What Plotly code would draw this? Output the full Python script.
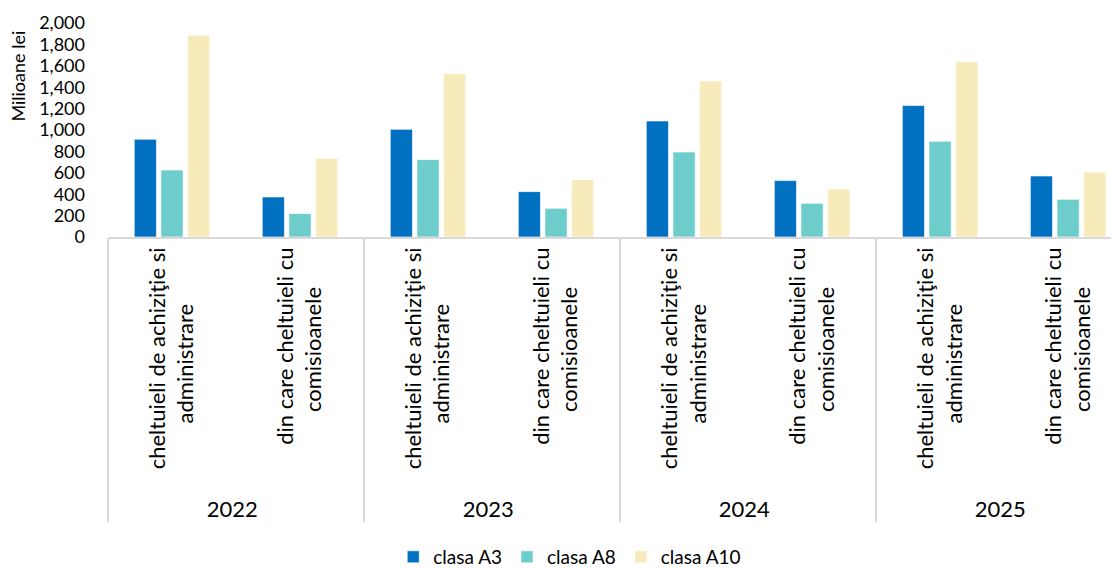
import plotly.graph_objects as go

NB = "\u00a0"
years = ["2022", "2023", "2024", "2025"]
categories = [
    NB + "cheltuieli de achiziţie si<br>administrare" + NB * 10,
    "din care cheltuieli cu<br>comisioanele" + NB * 7,
]
series_names = ["clasa A3", "clasa A8", "clasa A10"]
a3 = [913, 374, 1006, 424, 1084, 527, 1228, 570]
a8 = [626, 219, 723, 268, 794, 315, 894, 352]
a10 = [1885, 735, 1527, 536, 1458, 449, 1639, 607]
colors = ["#0070C0", "#6DCDCB", "#F7EBBB"]
y_ticks = [0, 200, 400, 600, 800, 1000, 1200, 1400, 1600, 1800, 2000]

x_outer = [y for y in years for _ in categories]
x_inner = [c for _ in years for c in categories]

font_family = "Lato, Noto Sans, sans-serif"

fig = go.Figure()
for name, vals, col in zip(series_names, [a3, a8, a10], colors):
    fig.add_trace(go.Bar(
        x=[x_outer, x_inner], y=vals, name=name,
        marker=dict(color=col, line=dict(color="rgba(255,255,255,0.6)", width=1)),
    ))

fig.update_layout(
    width=1119, height=568,
    margin=dict(l=100, r=0, t=15, b=339, autoexpand=False),
    paper_bgcolor="white", plot_bgcolor="white",
    barmode="group", bargap=0.375, bargroupgap=0.17,
    font=dict(family=font_family, size=19, color="#000000"),
    legend=dict(orientation="h", x=0.502, xanchor="center", xref="container",
                y=0.0, yanchor="bottom", yref="container",
                font=dict(size=19), itemwidth=30, traceorder="normal"),
    showlegend=True,
)
fig.update_xaxes(
    type="multicategory", tickangle=-90, automargin=False,
    showline=True, linecolor="#D9D9D9", linewidth=1.5,
    showdividers=True, dividercolor="#D9D9D9", dividerwidth=1.5,
    ticks="", tickfont=dict(size=22, family=font_family),
    range=[-0.5, 7.46],
)
fig.update_yaxes(
    range=[0, 2000], tickvals=y_ticks, tickformat=",", automargin=False,
    showgrid=False, zeroline=False, showline=False, ticks="",
    ticklabelstandoff=22,
    tickfont=dict(size=18, family=font_family),
)
fig.add_annotation(
    text="Milioane lei", textangle=-90, xref="paper", yref="y",
    x=-0.088, y=1502, xanchor="center", yanchor="middle", showarrow=False,
    font=dict(size=18, family=font_family),
)
fig.write_html("out.html")
